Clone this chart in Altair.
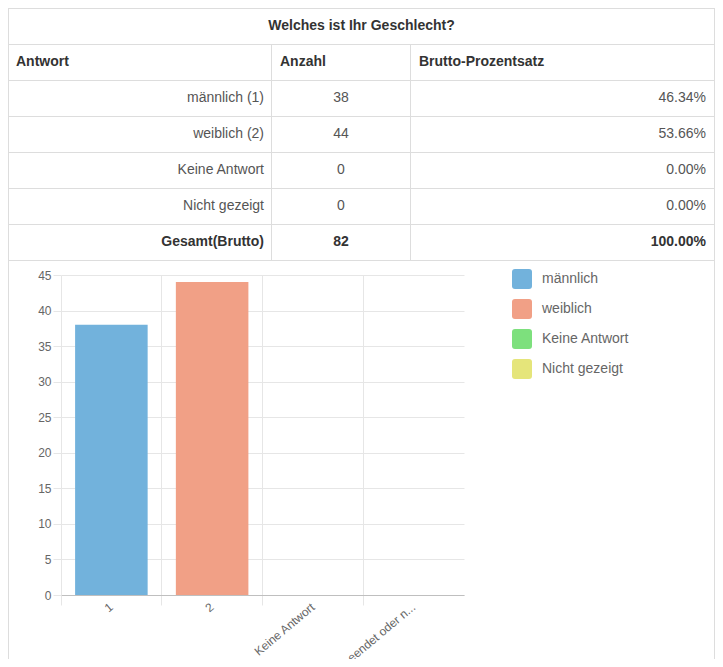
import altair as alt
import pandas as pd

# ---------------- data ----------------
question = "Welches ist Ihr Geschlecht?"
headers = ["Antwort", "Anzahl", "Brutto-Prozentsatz"]
answers = ["männlich (1)", "weiblich (2)", "Keine Antwort", "Nicht gezeigt"]
counts = [38, 44, 0, 0]
percents = ["46.34%", "53.66%", "0.00%", "0.00%"]
total_label = "Gesamt(Brutto)"
total_count = 82
total_percent = "100.00%"

bar_codes = ["1", "2", "Keine Antwort", "Nicht beendet oder n..."]
legend_labels = ["männlich", "weiblich", "Keine Antwort", "Nicht gezeigt"]
bar_colors = ["#72b2dc", "#f1a086", "#7de07d", "#e5e57a"]
y_ticks = [0, 5, 10, 15, 20, 25, 30, 35, 40, 45]

# ---------------- layout / style ----------------
W, H = 707, 651                 # whole drawing
ROW_H = 36
N_ROWS = 7
TABLE_H = N_ROWS * ROW_H
PL, PW, PH = 53, 403, 320       # bar plot area
PT = TABLE_H + 15
COL_EDGES = [0.5, 263.5, 402.5, 706.5]
LINE = "#dddddd"
GRID = "#e6e6e6"
TXT_BOLD = "#333333"
TXT = "#555555"
FONT = "Liberation Sans"


def cx(v):
    return v - PL


def cy(v):
    return v - PT


def row_mid(i):
    return cy(i * ROW_H + ROW_H / 2)


# table cells
cells = []
cells.append(dict(x=cx(W / 2), y=row_mid(0), t=question, align="center", bold=True))
hdr_x = [COL_EDGES[0] + 7.5, COL_EDGES[1] + 8.5, COL_EDGES[2] + 8.5]
for h, x in zip(headers, hdr_x):
    cells.append(dict(x=cx(x), y=row_mid(1), t=h, align="left", bold=True))
ans_x = COL_EDGES[1] - 7.5
cnt_x = (COL_EDGES[1] + COL_EDGES[2]) / 2
pct_x = COL_EDGES[3] - 8.5
for i, (a, c, p) in enumerate(zip(answers, counts, percents)):
    r = 2 + i
    cells.append(dict(x=cx(ans_x), y=row_mid(r), t=a, align="right", bold=False))
    cells.append(dict(x=cx(cnt_x), y=row_mid(r), t=str(c), align="center", bold=False))
    cells.append(dict(x=cx(pct_x), y=row_mid(r), t=p, align="right", bold=False))
r = 2 + len(answers)
cells.append(dict(x=cx(ans_x), y=row_mid(r), t=total_label, align="right", bold=True))
cells.append(dict(x=cx(cnt_x), y=row_mid(r), t=str(total_count), align="center", bold=True))
cells.append(dict(x=cx(pct_x), y=row_mid(r), t=total_percent, align="right", bold=True))
cells_df = pd.DataFrame(cells)

# table lines
lines = []
for i in range(N_ROWS + 1):
    yy = i * ROW_H + 0.5
    lines.append(dict(x=cx(COL_EDGES[0]), x2=cx(COL_EDGES[-1]), y=cy(yy), y2=cy(yy)))
for e in (COL_EDGES[0], COL_EDGES[-1]):
    lines.append(dict(x=cx(e), x2=cx(e), y=cy(0), y2=cy(H)))
for e in COL_EDGES[1:-1]:
    lines.append(dict(x=cx(e), x2=cx(e), y=cy(ROW_H), y2=cy(TABLE_H + 0.5)))
lines_df = pd.DataFrame(lines)

rules = alt.Chart(lines_df).mark_rule(color=LINE, strokeWidth=1).encode(
    x=alt.X("x:Q", scale=None, axis=None),
    x2="x2:Q",
    y=alt.Y("y:Q", scale=None, axis=None),
    y2="y2:Q",
)

text_layers = []
for align in ("left", "center", "right"):
    for bold in (True, False):
        sub = cells_df[(cells_df["align"] == align) & (cells_df["bold"] == bold)]
        if len(sub) == 0:
            continue
        text_layers.append(
            alt.Chart(sub).mark_text(
                align=align, baseline="middle", fontSize=14,
                color=TXT_BOLD if bold else TXT,
                fontWeight="bold" if bold else "normal", font=FONT,
            ).encode(
                x=alt.X("x:Q", scale=None, axis=None),
                y=alt.Y("y:Q", scale=None, axis=None),
                text="t:N",
            )
        )

# bar chart
bars_df = pd.DataFrame({"code": bar_codes, "label": legend_labels, "count": counts})
rounded = "M-0.7,-1H0.7Q1,-1,1,-0.7V0.7Q1,1,0.7,1H-0.7Q-1,1,-1,0.7V-0.7Q-1,-1,-0.7,-1Z"

bars = alt.Chart(bars_df).mark_bar(width=alt.RelativeBandSize(0.72)).encode(
    x=alt.X(
        "code:N", sort=bar_codes,
        scale=alt.Scale(paddingInner=0, paddingOuter=0),
        axis=alt.Axis(
            title=None, bandPosition=0, tickSize=10,
            tickColor=GRID, grid=True, gridColor=GRID, domainColor="#bfbfbf",
            labelAngle=320, labelAlign="right", labelBaseline="middle",
            labelPadding=0, labelFontSize=12, labelColor="#666666", labelLimit=400,
            labelFont=FONT,
        ),
    ),
    y=alt.Y(
        "count:Q",
        scale=alt.Scale(domain=[0, 45], nice=False),
        axis=alt.Axis(
            title=None, values=y_ticks, tickSize=8, tickColor=GRID, grid=True,
            gridColor=GRID, domain=False, labelPadding=2, labelFontSize=12,
            labelColor="#666666", labelFont=FONT,
        ),
    ),
    color=alt.Color(
        "label:N",
        scale=alt.Scale(domain=legend_labels, range=bar_colors),
        legend=alt.Legend(
            title=None, orient="none", legendX=PW + 48, legendY=-6,
            symbolType=rounded, symbolSize=400, symbolStrokeWidth=0,
            symbolOpacity=1, labelFontSize=14, labelColor="#666666",
            labelOffset=10, rowPadding=10, padding=0, labelFont=FONT,
        ),
    ),
)

chart = alt.layer(rules, *text_layers, bars).properties(
    width=PW,
    height=PH,
    autosize=alt.AutoSizeParams(type="none"),
    padding={"left": PL, "top": PT, "right": W - PL - PW, "bottom": H - PT - PH},
).configure(font=FONT).configure_view(stroke=None)

chart.save("out.html", embed_options={"renderer": "svg", "actions": False})
